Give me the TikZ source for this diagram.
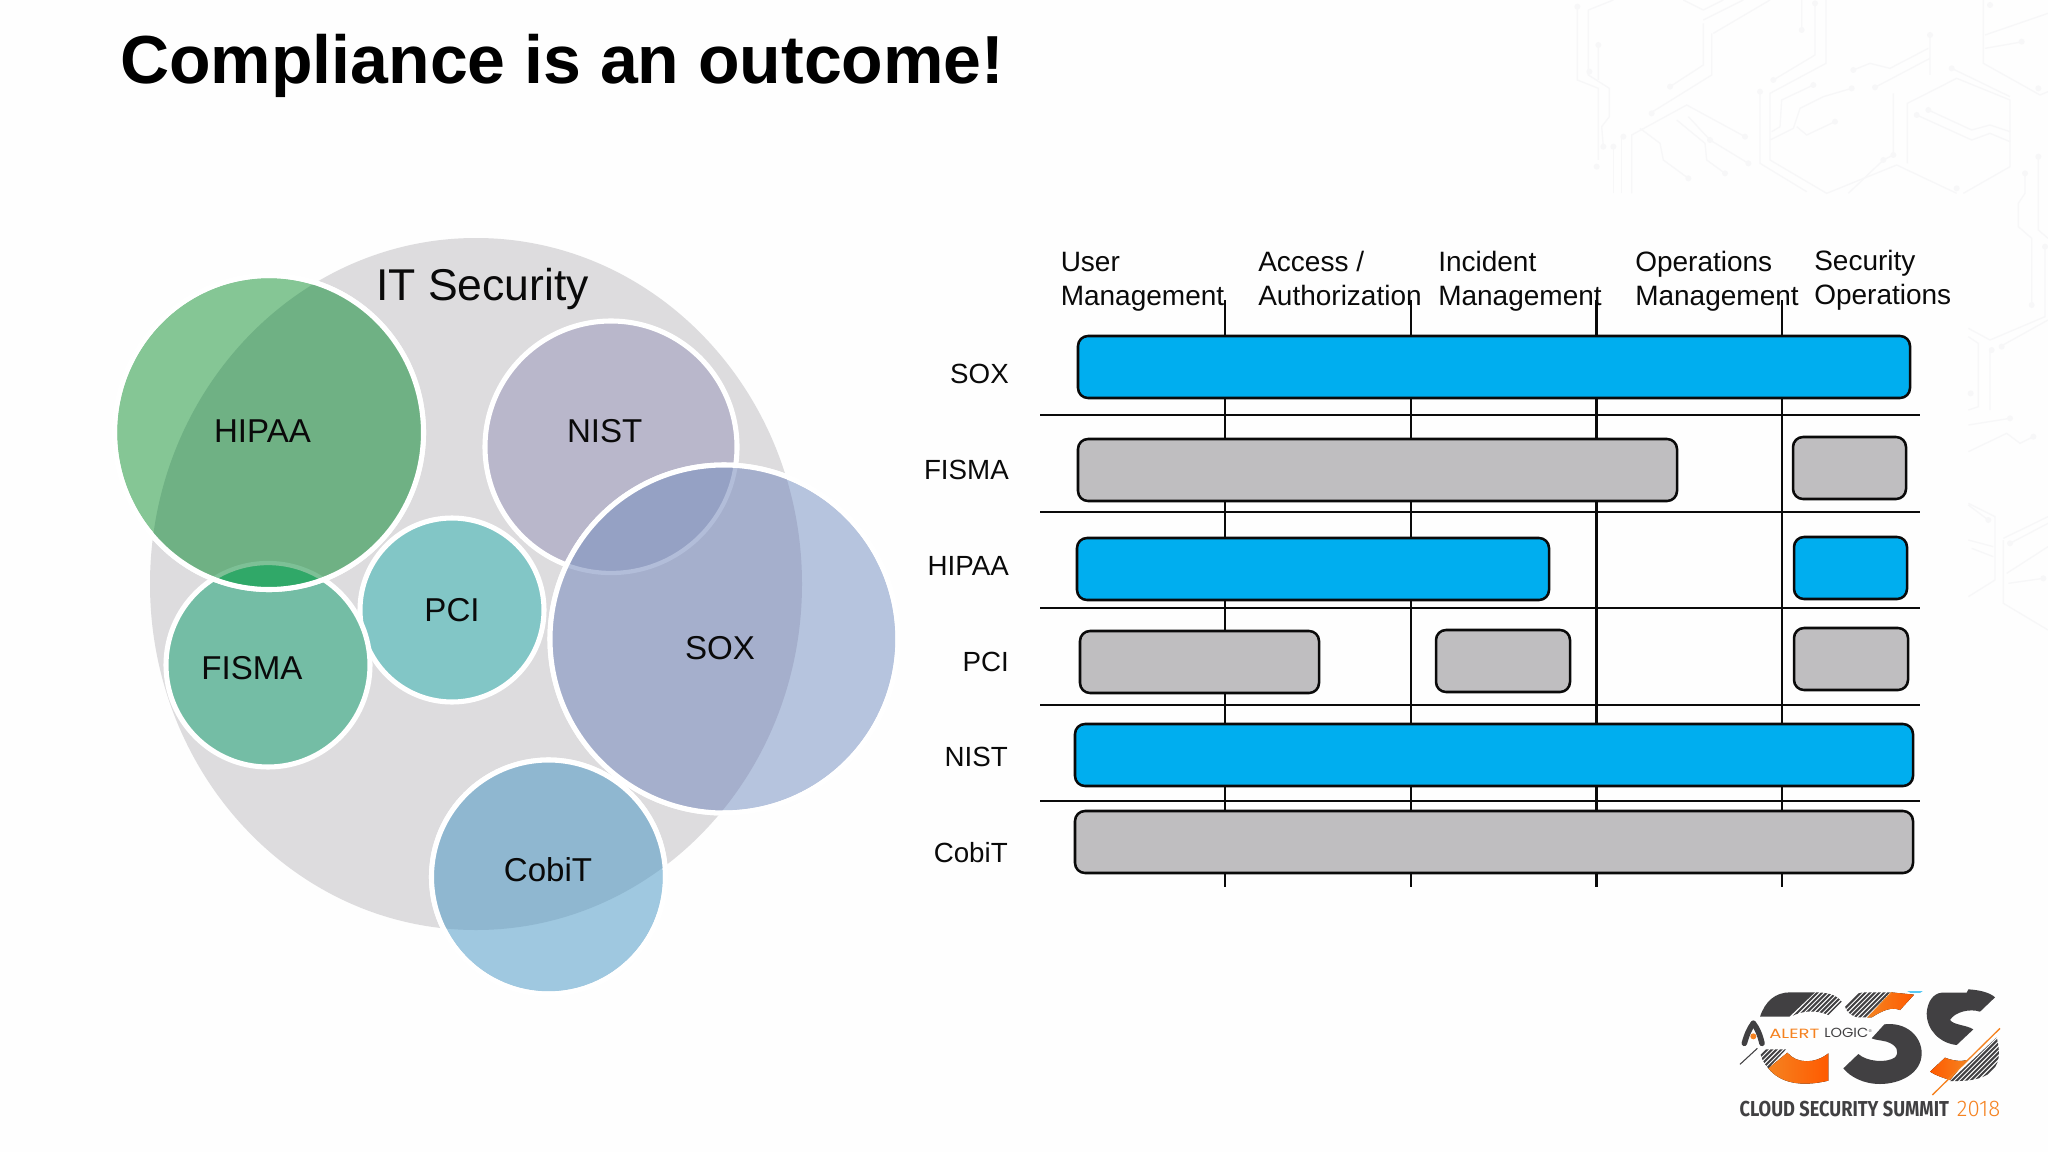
\documentclass[tikz,border=0pt]{standalone}
\usepackage{fontspec}
\usepackage{graphicx}
\setmainfont{Liberation Sans}
\newfontfamily\logofont{Poppins}
\newfontfamily\narrowfont{Fira Sans}
\newfontfamily\yearfont{Fira Sans Light}
\definecolor{barblue}{HTML}{00AEEF}
\definecolor{bargray}{HTML}{BFBEC0}
\definecolor{inkblack}{HTML}{0A0A0A}
\definecolor{logodark}{HTML}{414042}
\definecolor{logoorange}{HTML}{F58220}
\definecolor{logored}{HTML}{FF5A00}
\definecolor{trace}{HTML}{F7F7F8}
\definecolor{bigfill}{HTML}{DDDCDE}
\tikzset{
  bluebar/.style={draw=inkblack,line width=1.9pt,fill=barblue,rounded corners=7.5pt},
  graybar/.style={draw=inkblack,line width=1.9pt,fill=bargray,rounded corners=7.5pt},
  gridline/.style={draw=inkblack,line width=1.8pt},
  ring/.style={draw=white,line width=3.8pt},
  circlabel/.style={font=\fontsize{24.8}{28}\selectfont,text=inkblack,anchor=base,inner sep=0pt},
  rowlabel/.style={font=\fontsize{20.8}{25}\selectfont,text=inkblack,anchor=base east,inner sep=0pt},
  collabel/.style={font=\fontsize{21}{25.5}\selectfont,text=inkblack,anchor=west,align=left,inner sep=0pt},
  tracepath/.style={draw=trace,line width=1pt},
  tracedot/.style={fill=trace},
  hatchline/.style={draw=logodark,line width=1.5pt}
}
\begin{document}
\begin{tikzpicture}[x=0.75pt,y=-0.75pt]
\useasboundingbox (0,0) rectangle (2048,1152);
\fill[white!99.5!gray] (0,0) rectangle (2048,1152);

% faint circuit pattern, top right
\begin{scope}[shift={(1550,0)},x=0.25pt,y=-0.25pt]
\draw[tracepath] (82,20)--(82,240)--(145,265)--(145,480);
\draw[tracepath] (115,30)--(115,225)--(178,265)--(178,350)--(155,380)--(160,440);
\draw[tracepath] (145,135)--(145,240) (115,30)--(190,0);
\draw[tracepath] (460,70)--(460,195)--(360,260);
\draw[tracepath] (485,100)--(485,225)--(300,340);
\draw[tracepath] (490,100)--(660,0) (460,60)--(580,0) (400,0)--(460,30)--(520,0);
\draw[tracepath] (755,0)--(755,90) (795,10)--(795,165)--(670,240);
\draw[tracepath] (828,0)--(828,190)--(660,280)--(660,480)--(830,580)--(1040,495)--(1220,580);
\draw[tracepath] (630,275)--(630,490)--(770,575);
\draw[tracepath] (1030,280)--(1030,465)--(1000,480)--(895,580);
\draw[tracepath] (1072,490)--(1072,310)--(1220,235)--(1380,300)--(1380,500)--(1240,580);
\draw[tracepath] (1205,205)--(1380,290);
\draw[tracepath] (1100,345)--(1265,420)--(1320,400)--(1380,425);
\draw[tracepath] (1135,330)--(1265,390)--(1320,375)--(1380,395);
\draw[tracepath] (1140,105)--(1140,225) (975,262)--(1140,175) (910,210)--(960,190)--(1020,205)--(1135,145);
\draw[tracepath] (660,420)--(730,385)--(750,325)--(820,290)--(905,265);
\draw[tracepath] (665,395)--(690,380)--(695,300)--(790,255);
\draw[tracepath] (740,380)--(770,405)--(855,365);
\draw[tracepath] (245,580)--(245,405)--(410,315)--(585,410);
\draw[tracepath] (215,580)--(215,410) (190,580)--(190,440);
\draw[tracepath] (270,385)--(330,430)--(340,480)--(415,535);
\draw[tracepath] (415,350)--(480,420) (380,360)--(465,430)--(470,480)--(525,520) (480,420)--(595,490);
\draw[tracepath] (1300,0)--(1300,190)--(1470,285)--(1494,275);
\draw[tracepath] (1305,105)--(1494,40) (1305,145)--(1420,125);
\foreach \p in {(82,20),(145,135),(118,215),(160,440),(140,500),(360,260),(305,340),(220,410),(190,440),(755,90),(795,10),(670,240),(630,275),(790,255),(905,265),(855,365),(910,210),(975,262),(1140,105),(1030,465),(1000,480),(1205,205),(1100,345),(1135,330),(585,410),(480,420),(595,490),(525,520),(415,535),(1220,565),(1465,265),(1415,125),(1320,15)}
  \fill[tracedot] \p circle[radius=9];
\end{scope}
\begin{scope}[shift={(1900,150)},x=0.25pt,y=-0.25pt]
\draw[tracepath] (375,70)--(375,130)--(355,160)--(355,230)--(395,265)--(395,465);
\draw[tracepath] (415,20)--(415,240)--(444,265);
\draw[tracepath] (435,290)--(435,500)--(270,570)--(205,535);
\draw[tracepath] (205,560)--(235,580)--(235,770)--(205,780) (270,600)--(270,780) (300,590)--(444,510);
\draw[tracepath] (205,825)--(330,805) (205,905)--(320,850)--(360,880)--(400,860);
\draw[tracepath] (205,1060)--(285,1100)--(285,1290)--(205,1340) (205,1065)--(265,1110);
\draw[tracepath] (205,1170)--(280,1190) (215,1195)--(280,1220);
\draw[tracepath] (310,1170)--(310,1360)--(444,1440) (310,1165)--(444,1100) (330,1180)--(444,1120);
\draw[tracepath] (325,1300)--(430,1285) (320,1270)--(444,1190);
\foreach \p in {(375,70),(415,20),(435,290),(395,465),(275,600),(305,590),(212,730),(330,805),(400,860),(265,1110),(330,1180),(430,1285)}
  \fill[tracedot] \p circle[radius=9];
\end{scope}

% title
\node[anchor=base west,inner sep=0pt,font=\fontsize{51}{58}\selectfont\bfseries,text=black] (title) at (120,84) {Compliance is an outcome!};

% IT Security bubbles
\fill[bigfill] (476,584) ellipse [x radius=326,y radius=346];
\filldraw[ring,fill={rgb,255:red,130;green,198;blue,198}] (452,610) circle[radius=92];
\filldraw[ring,fill={rgb,255:red,116;green,189;blue,165}] (268,665) circle[radius=102];
\filldraw[ring,fill={rgb,255:red,159;green,200;blue,224}] (548.5,877) circle[radius=117];
\begin{scope}
\clip (476,584) ellipse [x radius=326,y radius=346];
\fill[fill={rgb,255:red,143;green,183;blue,208}] (548.5,877) circle[radius=117];
\end{scope}
\draw[ring] (548.5,877) circle[radius=117];
\filldraw[ring,fill={rgb,255:red,185;green,183;blue,203}] (611,447) circle[radius=126];
\filldraw[ring,fill={rgb,255:red,182;green,196;blue,222}] (724,639) circle[radius=174];
\begin{scope}
\clip (476,584) ellipse [x radius=326,y radius=346];
\fill[fill={rgb,255:red,165;green,175;blue,204}] (724,639) circle[radius=174];
\end{scope}
\begin{scope}
\clip (724,639) circle[radius=174];
\fill[fill={rgb,255:red,149;green,161;blue,196}] (611,447) circle[radius=126];
\draw[line width=3.2pt,draw={rgb,255:red,178;green,189;blue,217}] (611,447) circle[radius=126];
\end{scope}
\draw[ring] (724,639) circle[radius=174];
\filldraw[ring,fill={rgb,255:red,133;green,198;blue,149}] (269,432.5) ellipse [x radius=154.5,y radius=157];
\begin{scope}
\clip (476,584) ellipse [x radius=326,y radius=346];
\fill[fill={rgb,255:red,111;green,177;blue,132}] (269,432.5) ellipse [x radius=154.5,y radius=157];
\end{scope}
\begin{scope}
\clip (269,432.5) ellipse [x radius=154.5,y radius=157];
\fill[fill={rgb,255:red,48;green,168;blue,104}] (268,665) circle[radius=102];
\draw[line width=3.2pt,draw={rgb,255:red,125;green,192;blue,150}] (268,665) circle[radius=102];
\end{scope}
\draw[ring] (269,432.5) ellipse [x radius=154.5,y radius=157];

\node[circlabel,font=\fontsize{33.4}{38}\selectfont] (lit) at (482.6,300.5) {IT Security};
\node[circlabel] (lhipaa) at (262.5,442.5) {HIPAA};
\node[circlabel] (lnist) at (604.7,442.5) {NIST};
\node[circlabel] (lpci) at (452,621.5) {PCI};
\node[circlabel] (lfisma) at (252,679) {FISMA};
\node[circlabel] (lsox) at (720,659) {SOX};
\node[circlabel] (lcobit) at (548,881.5) {CobiT};

% matrix grid
\foreach \n/\x in {1/1225,2/1411,3/1596.5,4/1782}{
  \coordinate (vt\n) at (\x,300);
  \coordinate (vb\n) at (\x,887);
  \draw[gridline] (vt\n) -- (vb\n);
}
\foreach \n/\y in {1/415,2/512,3/608,4/705,5/801}{
  \coordinate (hl\n) at (1040,\y);
  \coordinate (hr\n) at (1920,\y);
  \draw[gridline] (hl\n) -- (hr\n);
}
% bars
\path[bluebar] (1078,336) rectangle (1910,398);
\path[graybar] (1078,439) rectangle (1677,501);
\path[graybar] (1793,437) rectangle (1906,499);
\path[bluebar] (1077,538) rectangle (1549,600);
\path[bluebar] (1794,537) rectangle (1907,599);
\path[graybar] (1080,631) rectangle (1319,693);
\path[graybar] (1436,630) rectangle (1570,692);
\path[graybar] (1794,628) rectangle (1908,690);
\path[bluebar] (1075,724) rectangle (1913,786);
\path[graybar] (1075,811) rectangle (1913,873);

% row labels
\node[rowlabel] (rsox) at (1009,383.5) {SOX};
\node[rowlabel] (rfisma) at (1009,479.5) {FISMA};
\node[rowlabel] (rhipaa) at (1009,575) {HIPAA};
\node[rowlabel] (rpci) at (1009,671) {PCI};
\node[rowlabel] (rnist) at (1008,766) {NIST};
\node[rowlabel] (rcobit) at (1008,862) {CobiT};

% column labels
\node[collabel] (cuser) at (1060.5,282) {\strut User\\\strut Management};
\node[collabel] (caccess) at (1258,282) {\strut Access /\\\strut Authorization};
\node[collabel] (cinc) at (1438,282) {\strut Incident\\\strut Management};
\node[collabel] (cops) at (1635,282) {\strut Operations\\\strut Management};
\node[collabel] (csec) at (1814,280.5) {\strut Security\\\strut Operations};

% logo
\begin{scope}[shift={(1700,960)},x=0.25pt,y=-0.25pt]
\fill[logodark] (180,170) .. controls (195,125) and (225,97) .. (270,97) -- (345,97) -- (268,170) -- cycle;
\begin{scope}
\clip (345,97) .. controls (385,97) and (410,105) .. (425,125) -- (385,165) .. controls (350,150) and (310,150) .. (272,170) -- cycle;
\foreach \k in {0,14,...,240} \draw[hatchline] (240+\k,210) -- (380+\k,70);
\end{scope}
\begin{scope}
\clip (178,268) -- (258,268) -- (205,325) .. controls (190,310) and (182,290) .. (178,268) -- cycle;
\foreach \k in {0,14,...,130} \draw[hatchline] (130+\k,340) -- (220+\k,250);
\end{scope}
\fill[left color=logoorange,right color=logored] (205,325) -- (262,278) .. controls (290,312) and (345,312) .. (385,280) -- (385,362) .. controls (300,382) and (240,368) .. (205,325) -- cycle;
\begin{scope}
\clip (435,140) .. controls (450,110) and (470,97) .. (495,97) -- (570,97) -- (503,172) -- (470,172) .. controls (450,165) and (440,155) .. (435,140) -- cycle;
\foreach \k in {0,14,...,210} \draw[hatchline] (390+\k,190) -- (500+\k,80);
\end{scope}
\fill[left color=logoorange,right color=logored] (573,97) -- (642,104) -- (600,150) .. controls (575,140) and (550,150) .. (515,172) -- (505,172) -- cycle;
\draw[logoorange,line width=0.8pt] (503,173) -- (575,97);
\fill[barblue] (622,94) -- (668,94) -- (660,98) -- (632,98) -- cycle;
\fill[logodark] (515,235) -- (553,193) .. controls (620,185) and (665,230) .. (665,280) .. controls (665,340) and (600,372) .. (540,372) .. controls (490,372) and (450,350) .. (430,325) -- (475,282) .. controls (500,305) and (560,310) .. (585,292) .. controls (600,275) and (590,255) .. (560,245) .. controls (540,240) and (525,240) .. (515,235) -- cycle;
\fill[logodark] (680,160) .. controls (682,125) and (700,100) .. (725,98) -- (800,98) -- (805,88) .. controls (840,90) and (870,98) .. (885,112) -- (840,155) .. controls (810,145) and (765,155) .. (750,180) .. controls (760,195) and (800,195) .. (820,208) -- (770,255) .. controls (720,250) and (680,210) .. (680,160) -- cycle;
\begin{scope}
\clip (890,232) .. controls (900,270) and (905,320) .. (860,345) .. controls (830,362) and (790,364) .. (750,363) -- cycle;
\foreach \k in {0,14,...,280} \draw[hatchline] (690+\k,400) -- (880+\k,210);
\end{scope}
\fill[left color=logored,right color=logoorange] (690,335) -- (735,293) .. controls (760,303) and (785,305) .. (800,300) -- (750,360) .. controls (725,352) and (705,345) .. (690,335) -- cycle;
\draw[logoorange,line width=1pt] (900,205) -- (697,405);
% Alert Logic mark
\draw[logodark,line width=4.2pt,line cap=round] (160,190) .. controls (148,205) and (140,225) .. (133,250);
\draw[logodark,line width=4.2pt,line cap=round] (160,190) .. controls (172,205) and (180,225) .. (186,250);
\fill[logoorange] (160,229) circle[radius=9];
\draw[logodark,line width=0.8pt] (120,313) -- (172,265);
\node[anchor=west,inner sep=0pt] (lalert) at (207,220) {\resizebox{37.5pt}{7pt}{\color{logoorange}\logofont ALERT}};
\node[anchor=west,inner sep=0pt] (llogic) at (372,220) {\resizebox{33pt}{7pt}{\color{logodark}\logofont LOGIC}};
\node[anchor=west,inner sep=0pt,font=\fontsize{3}{3}\selectfont,text=logodark] (lreg) at (506,212) {®};
\node[anchor=west,inner sep=0pt] (lsumm) at (118,447) {\resizebox{157pt}{11.5pt}{\color{logodark}\narrowfont\bfseries CLOUD SECURITY SUMMIT}};
\node[anchor=west,inner sep=0pt] (lyear) at (770,447) {\resizebox{32.5pt}{11.5pt}{\color{logoorange}\yearfont 2018}};
\end{scope}
\end{tikzpicture}
\end{document}
